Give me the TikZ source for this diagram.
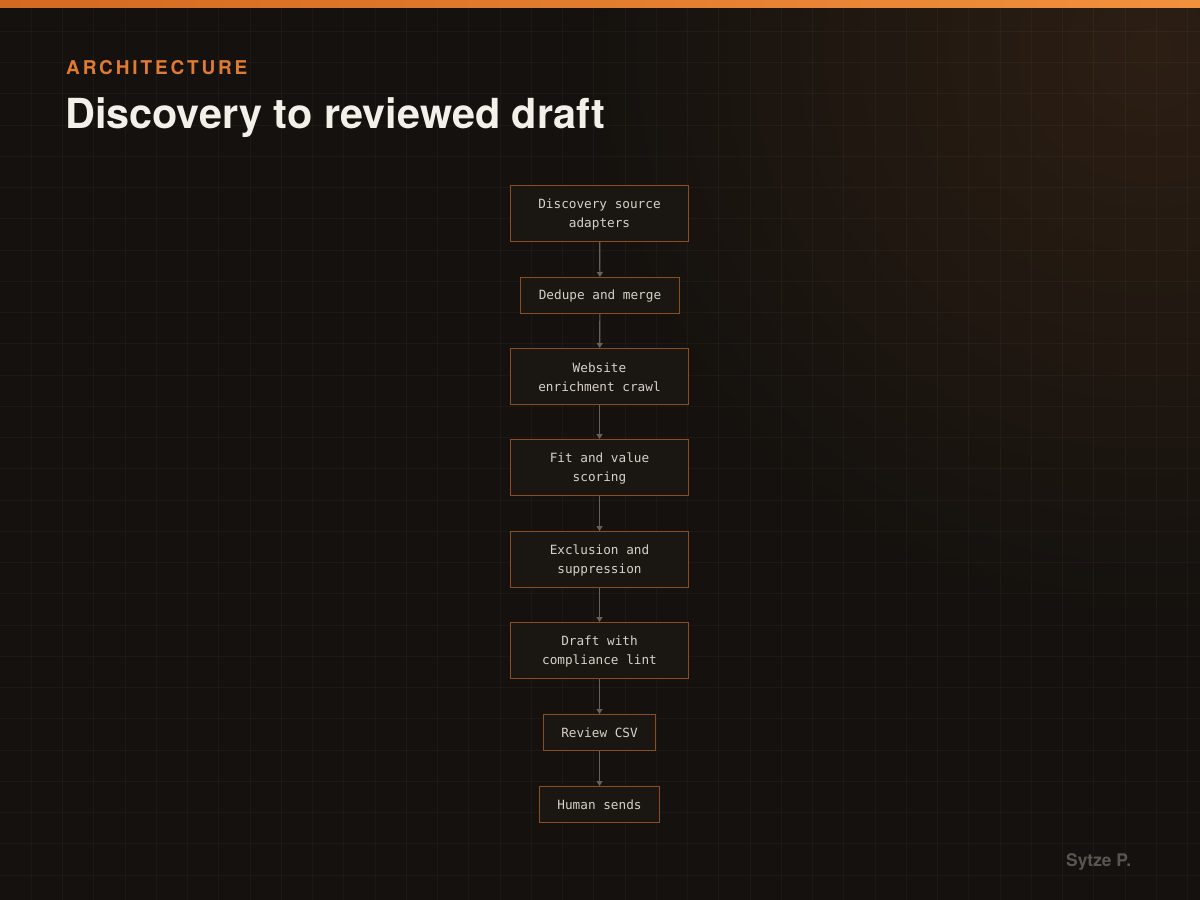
\documentclass[tikz,border=0pt]{standalone}
\usepackage{fontspec}
\usetikzlibrary{arrows.meta}
\newfontfamily\headfont{TeX Gyre Heros}
\newfontfamily\monofont{DejaVu Sans Mono}
\definecolor{bgc}{HTML}{14110E}
\definecolor{glowc}{HTML}{2C1E13}
\definecolor{barl}{HTML}{D4691F}
\definecolor{barr}{HTML}{F2913D}
\definecolor{boxfill}{HTML}{1A1612}
\definecolor{boxborder}{HTML}{8E4C22}
\definecolor{boxtext}{HTML}{D8D1C8}
\definecolor{arrowc}{HTML}{67615B}
\definecolor{eyebrow}{HTML}{E07B31}
\definecolor{titlec}{HTML}{F3EFE9}
\definecolor{signc}{HTML}{5A554F}
\definecolor{gridc}{HTML}{FFF0DC}
\tikzset{
  gridline/.style={draw=gridc, draw opacity=0.035, line width=1pt},
  stepbox/.style={draw=boxborder, fill=boxfill, line width=1pt, inner sep=0pt,
    align=center, text=boxtext, font=\monofont\fontsize{12.7}{19}\selectfont},
  flow/.style={draw=arrowc, line width=1.2pt, -{Triangle[width=6pt,length=5pt]}},
}
\begin{document}
\begin{tikzpicture}[x=1pt,y=-1pt]
\useasboundingbox (0,0) rectangle (1200,900);
\begin{scope}
\clip (0,0) rectangle (1200,900);
\fill[bgc] (0,0) rectangle (1200,900);
\shade[inner color=glowc, outer color=bgc] (1150,50) circle (580);
\foreach \i in {1,...,38} \draw[gridline] (\i*31.25,0) -- (\i*31.25,900);
\foreach \j in {1,...,28} \draw[gridline] (0,\j*31.25) -- (1200,\j*31.25);
\shade[left color=barl, right color=barr] (0,0) rectangle (1200,7);
\end{scope}

\node[anchor=base west, inner sep=0pt, text=eyebrow,
  font=\headfont\bfseries\fontsize{19}{22}\selectfont\addfontfeature{LetterSpace=15}]
  (eyebrowtxt) at (66,74) {ARCHITECTURE};
\node[anchor=base west, inner sep=0pt, text=titlec,
  font=\headfont\bfseries\fontsize{41.4}{48}\selectfont]
  (title) at (65,128) {Discovery to reviewed draft};
\node[anchor=base west, inner sep=0pt, text=signc,
  font=\headfont\bfseries\fontsize{17.4}{20}\selectfont]
  (sign) at (1066,866) {Sytze P.};

\node[stepbox, minimum width=178pt, minimum height=56pt] (n1) at (599.5,213.5) {\rule{0pt}{11pt}Discovery source\\adapters};
\node[stepbox, minimum width=159pt, minimum height=36pt] (n2) at (600,295.5) {\rule{0pt}{11pt}Dedupe and merge};
\node[stepbox, minimum width=178pt, minimum height=56pt] (n3) at (599.5,376.5) {\rule{0pt}{11pt}Website\\enrichment crawl};
\node[stepbox, minimum width=178pt, minimum height=56pt] (n4) at (599.5,467.5) {\rule{0pt}{11pt}Fit and value\\scoring};
\node[stepbox, minimum width=178pt, minimum height=56pt] (n5) at (599.5,559.5) {\rule{0pt}{11pt}Exclusion and\\suppression};
\node[stepbox, minimum width=178pt, minimum height=56pt] (n6) at (599.5,650.5) {\rule{0pt}{11pt}Draft with\\compliance lint};
\node[stepbox, minimum width=112pt, minimum height=36pt] (n7) at (599.5,732.5) {\rule{0pt}{11pt}Review CSV};
\node[stepbox, minimum width=120pt, minimum height=36pt] (n8) at (599.5,804.5) {\rule{0pt}{11pt}Human sends};

\draw[flow] (n1) -- (n2);
\draw[flow] (n2) -- (n3);
\draw[flow] (n3) -- (n4);
\draw[flow] (n4) -- (n5);
\draw[flow] (n5) -- (n6);
\draw[flow] (n6) -- (n7);
\draw[flow] (n7) -- (n8);
\end{tikzpicture}
\end{document}
